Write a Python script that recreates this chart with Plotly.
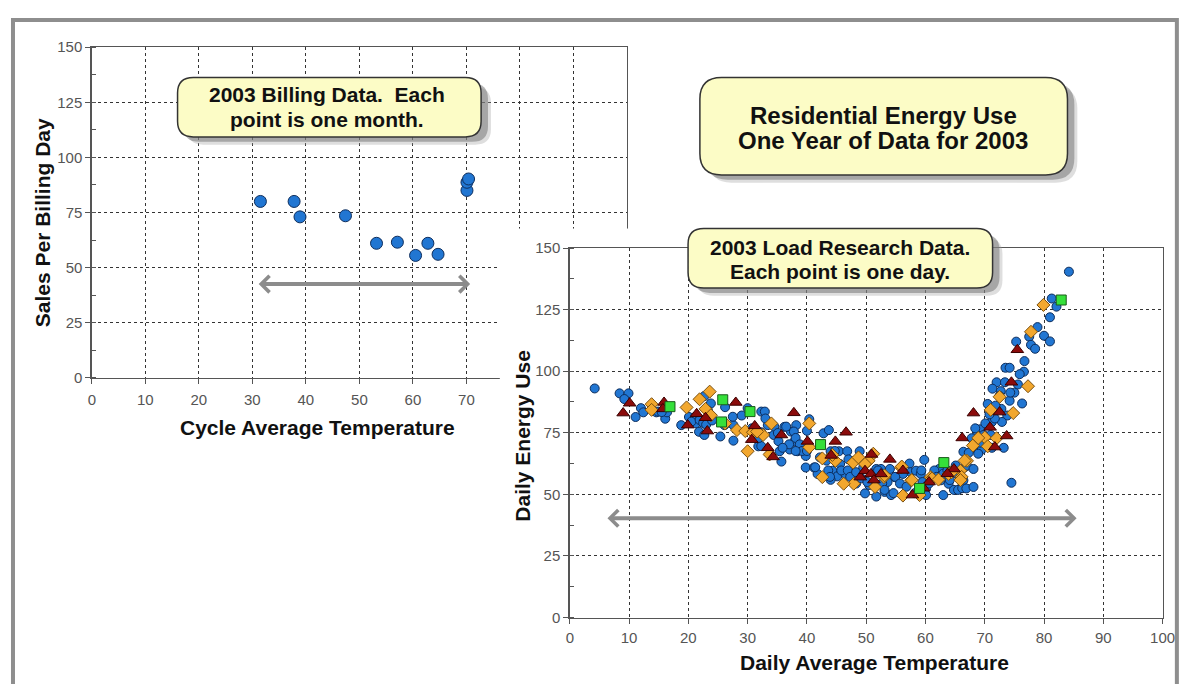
import plotly.graph_objects as go

# reference canvas is 1189x692; the page adds an 8px body margin, so the figure is 16px smaller
REF_W, REF_H = 1189, 692
OX, OY = 8, 8
W, H = REF_W - 2 * OX, REF_H - 2 * OY

# ---------------- data: billing (left chart) ----------------
billing_temp = [31.5, 37.8, 38.9, 47.4, 53.2, 57.1, 60.5, 62.8, 64.7, 70.1, 70.1, 70.4]
billing_sales = [80, 80, 73, 73.5, 61, 61.5, 55.5, 61, 56, 85, 88.7, 90.2]

# ---------------- data: load research (right chart) ----------------
circle_days = [
    (4.2, 93), (8.4, 91), (9.9, 91), (9.2, 88.7), (11.1, 81.4), (12.0, 85), (12.4, 83.3), (14.6, 83.3),
    (16.1, 80.7), (16.4, 83.3), (18.8, 78.1), (20.1, 81.4), (22.7, 89.9), (23.8, 86.9), (21.3, 78.8),
    (21.1, 81.4), (21.8, 75.4), (22.7, 74.1), (20.5, 79.5), (22.0, 80.5), (14.9, 83.6), (15.5, 83.4),
    (21.9, 80.2), (22.5, 79.0), (23.0, 78.3), (24.0, 80.0), (23.3, 84.0),
    (26.2, 85.4), (29.0, 82), (30.0, 85), (32.3, 83.6), (32.9, 83.6), (40.4, 80.5), (26.1, 78.1),
    (27.6, 78.1), (30.7, 76.8), (32.3, 75.2), (33.4, 78.1), (34.4, 74.1), (36.2, 77.4), (37.3, 75.5),
    (38.2, 78.1), (25.4, 73.5), (27.6, 71.8), (31.8, 69.5), (35.4, 67.5), (35.7, 63.3), (37.1, 68.2),
    (37.9, 71.5), (38.4, 67.5), (39.8, 65.6), (39.8, 60.9), (41.2, 60.9), (42.8, 74.8), (43.7, 76.1),
    (44.0, 67.5), (45.4, 67.5), (46.8, 67.5), (41.8, 58.3), (44.3, 59.6), (45.1, 57.3), (45.6, 62.3),
    (47.0, 64.2), (44.0, 55.9), (46.5, 58.3), (48.9, 67.5), (27.5, 81.5), (33.0, 80.8), (34.5, 77.5),
    (35.1, 74.9), (36.5, 77.5), (37.0, 70.3), (37.8, 75.5), (38.1, 72.9), (38.8, 70.3), (39.2, 67.6),
    (40.0, 75.8), (41.4, 61), (42.2, 65), (43.3, 63.7), (43.6, 59.7), (43.9, 57.1), (45.8, 59.7),
    (46.9, 59.7), (47.3, 57.1), (48.3, 59), (32.3, 69.6), (31.9, 72.9), (35.2, 71.6), (35.9, 68.9),
    (38.1, 67.6), (40.0, 67.6), (44.7, 67.6), (48.3, 54.4), (49.5, 60.9),
    (51.7, 60.3), (52.5, 60.3), (54.0, 60.3), (54.8, 57), (53.6, 55), (51.7, 53.7), (49.8, 50.4),
    (51.7, 49.1), (53.1, 51), (54.2, 49.7), (57.3, 62.5), (57.5, 59), (56.2, 58.3), (58.4, 59.6),
    (59.8, 64), (59.2, 58.3), (59.5, 55), (60.1, 52.4), (60.1, 49.7), (61.7, 57.7), (62.6, 55.7),
    (63.0, 49.7), (62.3, 60.3), (63.9, 54.3), (65.3, 58.3), (65.9, 52.4), (66.4, 55.7), (66.4, 67.3),
    (50.5, 53.8), (52.0, 59.7), (52.7, 54.4), (53.1, 51.8), (54.6, 50.5), (54.9, 57.1), (55.7, 54.4),
    (56.8, 53.1), (58.2, 50.5), (59.3, 59.7), (60.6, 54.4), (61.5, 59.7), (61.9, 57.1), (63.0, 58.4),
    (63.7, 59.7), (64.1, 55.8), (64.8, 51.8), (65.1, 61.7), (65.5, 51.8), (66.2, 52.5), (66.6, 61),
    (66.9, 52.4), (49.2, 56.5), (50.2, 55.0),
    (84.2, 140.4), (81.3, 129.5), (82.1, 126.2), (81.0, 121.9), (78.9, 117.9), (77.5, 114), (80.0, 114.4),
    (81.0, 112.1), (77.8, 110.7), (78.5, 109.1), (75.3, 112), (76.7, 104.1), (73.5, 101.4), (74.2, 101.4),
    (76.6, 99.8), (75.9, 98.8), (72.0, 95.5), (73.4, 95.5), (75.6, 94.6), (71.3, 92.9), (72.7, 91.9),
    (75.0, 91.3), (74.2, 88), (70.5, 86.7), (76.3, 86.9), (73.8, 82), (72.9, 79.4), (71.2, 79.4),
    (69.2, 76.4), (68.7, 74.1), (69.8, 74.1), (71.0, 74.1), (67.8, 72.8), (68.1, 68.9), (69.5, 68.2),
    (67.3, 66.9), (68.9, 66.5), (67.0, 61.6), (68.1, 60.3), (74.5, 54.7), (68.1, 53), (71.7, 80.8),
    (72.5, 90), (72.8, 84.7), (73.2, 68.9), (74.3, 91.3), (70.1, 78.8), (71.2, 68.9), (69.2, 71),
    (68.4, 76.8), (70.8, 82.5), (71.8, 86.0),
]
diamond_days = [
    (13.8, 86.6), (13.8, 84.3), (19.7, 85.3), (21.9, 88.6), (23.6, 91.7), (22.9, 84.7), (23.8, 82.1),
    (40.4, 78.8), (28.2, 76.1), (29.6, 75.7), (30.9, 75.2), (32.6, 74.1), (34.0, 78.8), (30.0, 67.5),
    (33.7, 66.2), (40.4, 69.1), (42.6, 64.6), (44.8, 63.6), (42.6, 57), (47.8, 62.9), (47.9, 54.3),
    (46.2, 54.3), (26.2, 78.8), (44.3, 66.0), (48.7, 65), (31.6, 75.5),
    (51.2, 66.5), (50.4, 63.6), (53.0, 57), (51.5, 53), (56.2, 49.5), (57.6, 55.7), (55.9, 60.9),
    (60.9, 57), (59.0, 49.7), (63.9, 58.3), (65.9, 59.6), (67.0, 63.6), (49.8, 62.3), (53.1, 57.7),
    (56.0, 61.3), (57.7, 55.8), (61.1, 56.4), (62.2, 56), (64.4, 59), (66.6, 63.7), (66.1, 57.1),
    (65.9, 55.8),
    (79.9, 126.9), (77.8, 116), (77.3, 93.9), (72.5, 89.6), (71.0, 84.3), (74.8, 83), (70.0, 73.1),
    (72.0, 72.8), (70.5, 69.5), (68.0, 69.8), (68.9, 72.9),
]
triangle_days = [
    (10.1, 87), (9.0, 83), (15.9, 87.3), (15.7, 84.7), (19.9, 78.1), (21.4, 82.7), (22.9, 81.1), (23.2, 75.7),
    (28.0, 87.3), (37.8, 83.1), (31.2, 77.8), (35.7, 74.1), (30.7, 72.2), (33.4, 68.9), (34.3, 65.2),
    (40.1, 71.5), (46.6, 75.2), (44.8, 71.5), (44.1, 65.8), (49.0, 57),
    (54.0, 64.2), (50.9, 66.2), (49.8, 59.6), (50.8, 58.3), (52.5, 58.3), (60.6, 55), (57.8, 49.7),
    (64.8, 60.3), (51.3, 55.8), (56.2, 59.7), (59.7, 52.5), (63.7, 58.4), (66.2, 72.9),
    (75.5, 108.7), (74.5, 95.5), (72.5, 83.4), (68.1, 83), (70.9, 77.2), (73.7, 73.7), (71.7, 69.2),
]
square_days = [
    (16.9, 85.6), (25.8, 88.4), (30.4, 83.6), (25.6, 79.4), (42.3, 70.2), (59.0, 52.4), (63.1, 62.9),
    (82.9, 128.9),
]

x_ticks = [0, 10, 20, 30, 40, 50, 60, 70, 80, 90, 100]
y_ticks = [0, 25, 50, 75, 100, 125, 150]

# ---------------- helpers (reference pixel -> paper fraction) ----------------
def px(x):
    return (x - OX) / W


def py(y):
    return 1 - (y - OY) / H


def rrect_path(x0, y0, x1, y1, r):
    def p(x, y):
        return f"{px(x):.5f},{py(y):.5f}"
    return (f"M {p(x0 + r, y0)} L {p(x1 - r, y0)} Q {p(x1, y0)} {p(x1, y0 + r)} "
            f"L {p(x1, y1 - r)} Q {p(x1, y1)} {p(x1 - r, y1)} L {p(x0 + r, y1)} "
            f"Q {p(x0, y1)} {p(x0, y1 - r)} L {p(x0, y0 + r)} Q {p(x0, y0)} {p(x0 + r, y0)} Z")


TICKFONT = dict(family="Liberation Sans Narrow, Arial Narrow, Liberation Sans, Arial", size=15, color="#555")
TEXTFONT = "Liberation Sans, Arial, sans-serif"

fig = go.Figure()

fig.add_trace(go.Scatter(
    x=billing_temp, y=billing_sales, mode="markers", xaxis="x", yaxis="y",
    marker=dict(symbol="circle", size=12, color="#2176d2", line=dict(color="#0d2d5c", width=1)),
    showlegend=False, hoverinfo="skip"))

# empty trace for the cover subplot (white background of the inset chart)
fig.add_trace(go.Scatter(x=[], y=[], xaxis="x2", yaxis="y2", showlegend=False))

def add_days(data, symbol, size, color, line):
    fig.add_trace(go.Scatter(
        x=[d[0] for d in data], y=[d[1] for d in data], mode="markers", xaxis="x3", yaxis="y3",
        marker=dict(symbol=symbol, size=size, color=color, line=dict(color=line, width=1)),
        showlegend=False, hoverinfo="skip"))

add_days(circle_days, "circle", 9, "#2176d2", "#0d2d5c")
add_days(diamond_days, "diamond", 10, "#f2a72e", "#7a5010")
add_days(triangle_days, "triangle-up", 11, "#8b0b0b", "#3a0000")
add_days(square_days, "square", 10, "#35e03a", "#1a5a1a")

axis_common = dict(
    showgrid=True, griddash="dot", gridcolor="#333", gridwidth=1,
    showline=True, linecolor="#555", linewidth=1.5, mirror=True,
    ticks="outside", ticklen=5, tickcolor="#555", tickfont=TICKFONT,
    zeroline=False, fixedrange=True,
)
minor_y = dict(dtick=12.5, ticks="inside", ticklen=4, tickcolor="#555", showgrid=False)

fig.update_layout(
    width=W, height=H, margin=dict(l=0, r=0, t=0, b=0),
    paper_bgcolor="white", plot_bgcolor="white", showlegend=False,
    xaxis=dict(domain=[px(89), px(632)], range=[0, 100], anchor="y", tickvals=x_ticks,
               ticklabelstandoff=3, **axis_common),
    yaxis=dict(domain=[py(378), py(39)], range=[0, 150], anchor="x", tickvals=y_ticks, minor=minor_y,
               **axis_common),
    xaxis2=dict(domain=[px(503), 1], range=[0, 1], anchor="y2", visible=False, fixedrange=True),
    yaxis2=dict(domain=[0, py(225)], range=[0, 1], anchor="x2", visible=False, fixedrange=True),
    xaxis3=dict(domain=[px(574), px(1175.5)], range=[0, 100], anchor="y3", tickvals=x_ticks,
                ticklabelstandoff=1, **axis_common),
    yaxis3=dict(domain=[py(624), py(245)], range=[0, 150], anchor="x3", tickvals=y_ticks, minor=minor_y,
                **axis_common),
)

shapes = []
# outer frame (right edge sits at the very edge of the canvas)
shapes.append(dict(type="rect", xref="paper", yref="paper", x0=px(9), x1=px(1190), y0=py(11), y1=-0.05,
                   line=dict(color="#8e8e8e", width=4), fillcolor="rgba(0,0,0,0)", layer="above"))

boxes = [
    (176, 70, 484, 131, 16),   # billing
    (694, 225, 1003, 286, 16),  # load research
    (706, 70, 1079, 170, 22),   # title
]
for (x0, y0, x1, y1, r) in boxes:
    shapes.append(dict(type="path", xref="paper", yref="paper", path=rrect_path(x0 + 10, y0 + 10, x1 + 10, y1 + 8, r),
                       fillcolor="rgba(160,160,160,0.35)", line=dict(width=0), layer="above"))
    shapes.append(dict(type="path", xref="paper", yref="paper", path=rrect_path(x0 + 6, y0 + 6, x1 + 7, y1 + 5, r),
                       fillcolor="rgba(120,120,120,0.55)", line=dict(width=0), layer="above"))
    shapes.append(dict(type="path", xref="paper", yref="paper", path=rrect_path(x0, y0, x1, y1, r),
                       fillcolor="#fcfcc6", line=dict(color="#333", width=1.5), layer="above"))
fig.update_layout(shapes=shapes)

ann = []

def text(x, y, s, size, angle=0):
    ann.append(dict(x=px(x), y=py(y), xref="paper", yref="paper", text=f"<b>{s}</b>", showarrow=False,
                    xanchor="center", yanchor="middle", textangle=angle,
                    font=dict(family=TEXTFONT, size=size, color="#111")))

text(328, 88, "2003 Billing Data.&nbsp; Each", 21)
text(328, 113, "point is one month.", 21)
text(848, 244, "2003 Load Research Data.", 21)
text(848, 269, "Each point is one day.", 21)
text(892, 109, "Residential Energy Use", 24)
text(892, 135, "One Year of Data for 2003", 24)

text(318, 429, "Cycle Average Temperature", 21)
text(39, 219, "Sales Per Billing Day", 21, -90)
text(883, 670, "Daily Average Temperature", 21)
text(526, 437, "Daily Energy Use", 21, -90)

# double-headed arrows
ann.append(dict(x=70.7, y=42.5, xref="x", yref="y", ax=30.9, ay=42.5, axref="x", ayref="y", text="",
                showarrow=True, arrowhead=4, startarrowhead=4, arrowside="end+start",
                arrowwidth=4, arrowsize=0.8, startarrowsize=0.8, arrowcolor="#8c8c8c"))
ann.append(dict(x=85.5, y=40.3, xref="x3", yref="y3", ax=6.1, ay=40.3, axref="x3", ayref="y3", text="",
                showarrow=True, arrowhead=4, startarrowhead=4, arrowside="end+start",
                arrowwidth=4, arrowsize=0.8, startarrowsize=0.8, arrowcolor="#8c8c8c"))

fig.update_layout(annotations=ann)

fig.write_html("out.html", config={"displayModeBar": False, "staticPlot": True})
